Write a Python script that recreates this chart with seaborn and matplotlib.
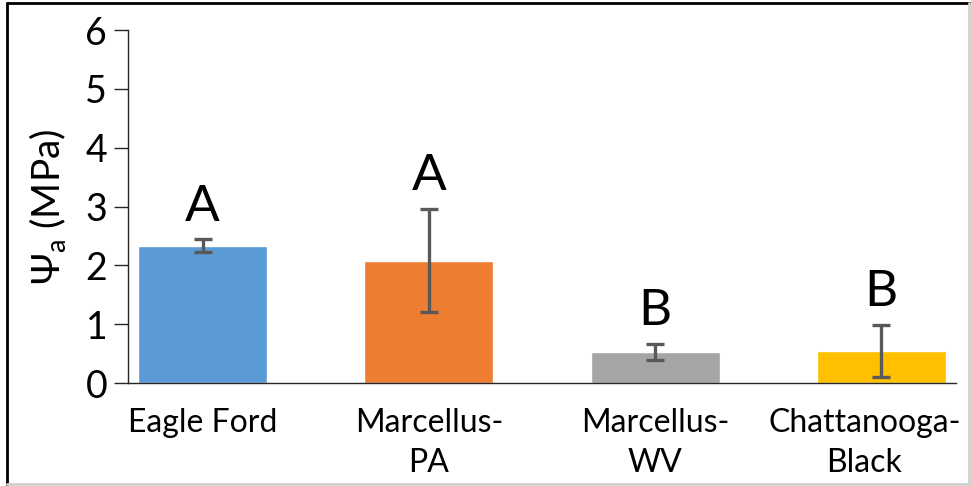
import matplotlib
matplotlib.use("Agg")
import matplotlib.pyplot as plt
import seaborn as sns
import pandas as pd
from matplotlib.lines import Line2D
from matplotlib.transforms import ScaledTranslation

# Adhesion pressure by shale formation
categories = ["Eagle Ford", "Marcellus-\nPA", "Marcellus-\nWV", "Chattanooga-\nBlack"]
psi_a = [2.33, 2.08, 0.53, 0.55]
psi_err = [0.11, 0.88, 0.14, 0.44]
groups = ["A", "A", "B", "B"]
bar_colors = ["#5B9BD5", "#ED7D31", "#A5A5A5", "#FFC000"]
y_ticks = [0, 1, 2, 3, 4, 5, 6]

sns.set_theme(style="white")
plt.rcParams["font.family"] = ["Lato", "DejaVu Sans"]
plt.rcParams["mathtext.fontset"] = "custom"
plt.rcParams["mathtext.rm"] = "Lato"
plt.rcParams["text.color"] = "black"
plt.rcParams["axes.labelcolor"] = "black"
plt.rcParams["xtick.color"] = "black"
plt.rcParams["ytick.color"] = "black"

df = pd.DataFrame({"formation": categories, "psi": psi_a})

W, H = 971, 486
fig = plt.figure(figsize=(W / 100, H / 100), dpi=100)
ax = fig.add_axes([128 / W, (H - 383) / H, (956 - 128) / W, (383 - 30) / H])

sns.barplot(data=df, x="formation", y="psi", hue="formation", palette=bar_colors,
            legend=False, width=0.57, saturation=1, ax=ax)

ax.errorbar(range(len(categories)), psi_a, yerr=psi_err, fmt="none",
            ecolor="#595959", elinewidth=2.4, capsize=6.5, capthick=2.4, zorder=5)

for i, (v, e, g) in enumerate(zip(psi_a, psi_err, groups)):
    ax.annotate(g, xy=(i, v + e), xytext=(0, 7), textcoords="offset points",
                ha="center", va="bottom", fontsize=37, color="black")

ax.set_ylim(0, 6)
ax.set_xlim(-0.33, 3.33)
ax.set_yticks(y_ticks)
ax.set_yticklabels([str(t) for t in y_ticks])
ax.set_xlabel("")
ax.set_ylabel(r"Ψ$_{\mathregular{a}}$ (MPa)", fontsize=28, labelpad=12)

for side in ["top", "right"]:
    ax.spines[side].set_visible(False)
for side in ["left", "bottom"]:
    ax.spines[side].set_color("#262626")
    ax.spines[side].set_linewidth(1.0)

ax.tick_params(axis="y", which="major", direction="out", length=10, width=1.0,
               color="#262626", labelsize=27, pad=5, left=True)
ax.tick_params(axis="x", length=0, labelsize=23, pad=18)
xlabels = ax.get_xticklabels()
for lbl in xlabels:
    lbl.set_linespacing(1.4)
# keep the last, widest category label inside the frame
xlabels[-1].set_transform(xlabels[-1].get_transform()
                          + ScaledTranslation(-0.17, 0, fig.dpi_scale_trans))

# Outer frame around the figure
fig.add_artist(Line2D([7 / W, 7 / W], [0, 1 - 3 / H], transform=fig.transFigure,
                      color="black", lw=2.0))
fig.add_artist(Line2D([7 / W, 1], [1 - 3 / H, 1 - 3 / H], transform=fig.transFigure,
                      color="black", lw=2.0))
fig.add_artist(Line2D([1 - 2 / W, 1 - 2 / W], [0, 1 - 3 / H], transform=fig.transFigure,
                      color="#d0d0d0", lw=2.0))
fig.add_artist(Line2D([7 / W, 1], [2 / H, 2 / H], transform=fig.transFigure,
                      color="#d0d0d0", lw=2.0))

fig.savefig("out.png", dpi=100)
